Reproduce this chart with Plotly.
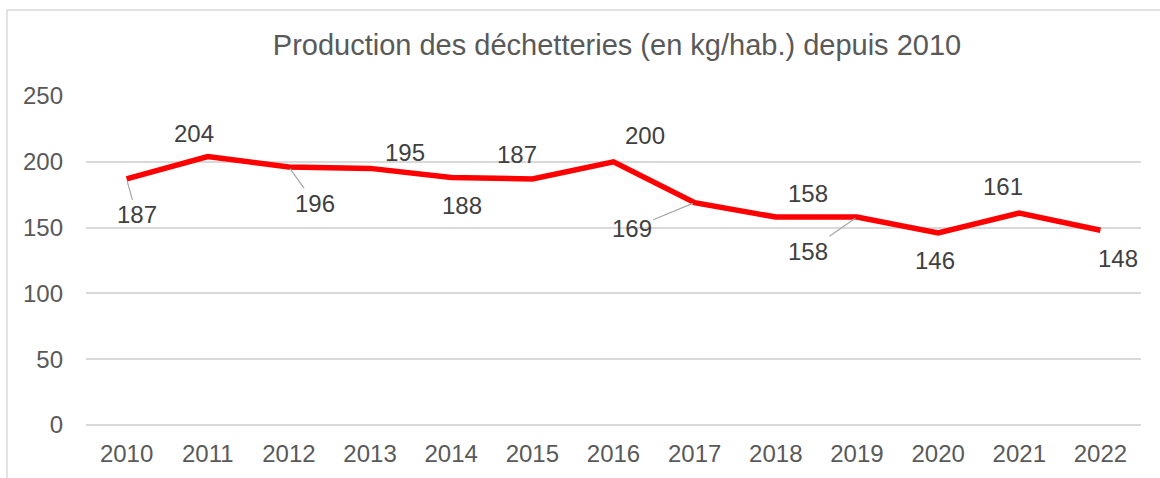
import plotly.graph_objects as go

# Data
years = ["2010", "2011", "2012", "2013", "2014", "2015", "2016",
         "2017", "2018", "2019", "2020", "2021", "2022"]
kg_per_hab = [187, 204, 196, 195, 188, 187, 200, 169, 158, 158, 146, 161, 148]
y_ticks = [0, 50, 100, 150, 200, 250]

# Label placement (pixel offsets from each point, and whether a leader line is drawn)
label_offsets = [(10, 36, True), (-14, -23, False), (26, 36, True), (35, -16, False),
                 (11, 28, False), (-15, -24, False), (31, -26, False), (-63, 26, True),
                 (32, -24, False), (-49, 34, True), (-3, 28, False), (-16, -27, False),
                 (18, 28, False)]

W, H = 1160, 478
ML, MR, MT, MB = 86, 19, 96, 53
FONT = "Liberation Sans, Arial, sans-serif"
GREY = "#595959"

fig = go.Figure()
fig.add_trace(go.Scatter(
    x=years, y=kg_per_hab, mode="lines",
    line=dict(color="#FF0000", width=5.5),
    hoverinfo="x+y", showlegend=False,
))

# Category positions are given by index so numeric-looking names are not misread
annotations = []
for i, (v, (dx, dy, lead)) in enumerate(zip(kg_per_hab, label_offsets)):
    common = dict(x=i, y=v, xref="x", yref="y", text=str(v),
                  font=dict(family=FONT, size=24, color="#404040"))
    if lead:
        annotations.append(dict(
            **common, showarrow=True, arrowhead=0, arrowwidth=1.2,
            arrowcolor="#a6a6a6", ax=dx, ay=dy, standoff=2,
        ))
    else:
        annotations.append(dict(**common, showarrow=False, xshift=dx, yshift=-dy))

pw = W - ML - MR
ph = H - MT - MB
fig.add_shape(
    type="rect", xref="paper", yref="paper", layer="below",
    x0=(7 - ML) / pw, x1=(W + 10 - ML) / pw,
    y0=-(MB + 10) / ph, y1=1 + (MT - 10) / ph,
    line=dict(color="#d9d9d9", width=1.5), fillcolor="rgba(0,0,0,0)",
)

fig.update_layout(
    width=W, height=H,
    margin=dict(l=ML, r=MR, t=MT, b=MB),
    paper_bgcolor="white", plot_bgcolor="white",
    title=dict(
        text="Production des déchetteries (en kg/hab.) depuis 2010",
        x=617 / W, xanchor="center", y=1 - 45 / H, yanchor="middle",
        font=dict(family=FONT, size=29, color=GREY),
    ),
    annotations=annotations,
    font=dict(family=FONT, color=GREY),
)
fig.update_xaxes(
    type="category", showgrid=False, showline=False, ticks="",
    tickfont=dict(family=FONT, size=24, color=GREY), ticklabelstandoff=12,
    range=[-0.5, len(years) - 0.5],
)
fig.update_yaxes(
    range=[0, 250], tickvals=y_ticks, showgrid=True,
    gridcolor="#d9d9d9", gridwidth=1.5, zeroline=True, zerolinecolor="#d9d9d9",
    zerolinewidth=1.5, showline=False, ticks="", ticklabelstandoff=22,
    tickfont=dict(family=FONT, size=24, color=GREY),
)

fig.write_html("out.html")
